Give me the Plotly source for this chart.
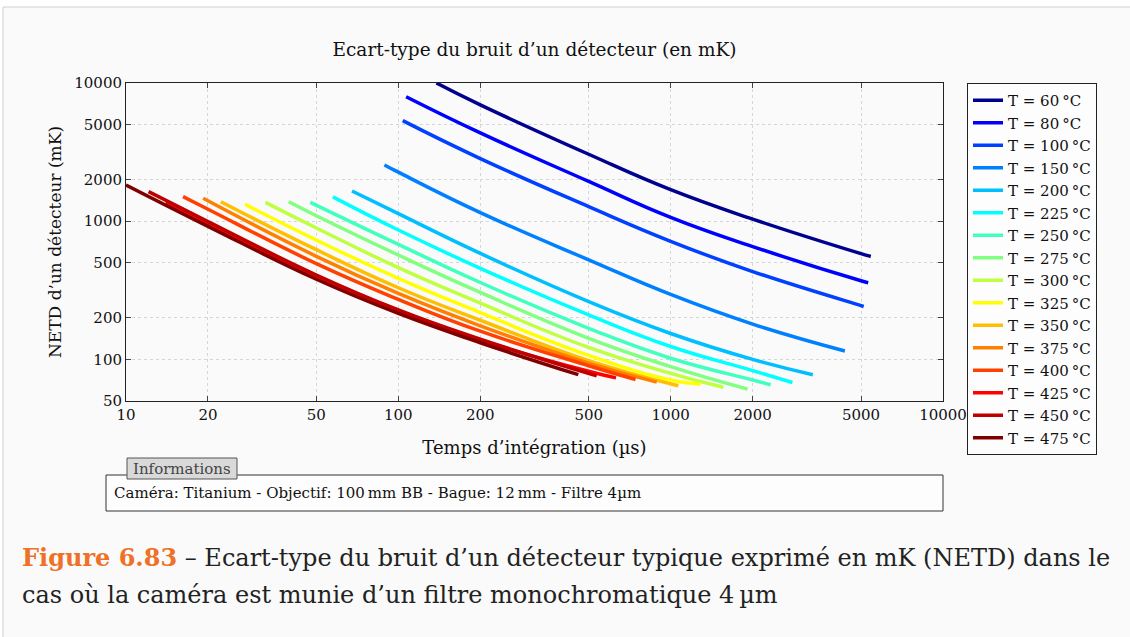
import plotly.graph_objects as go

# temperatures of the black body (°C)
temps = [60, 80, 100, 150, 200, 225, 250, 275, 300, 325, 350, 375, 400, 425, 450, 475]
colors = ["#00008F", "#0000FF", "#0040FF", "#0080FF", "#00BFFF", "#00FFFF", "#40FFBF", "#80FF80",
          "#BFFF40", "#FFFF00", "#FFBF00", "#FF8000", "#FF4000", "#FF0000", "#BF0000", "#800000"]

# integration time (µs) and NETD (mK)
t_60 = [138, 200, 500, 1000, 2000, 5000, 5430]
n_60 = [10000, 6950, 3050, 1690, 1035, 582, 555]
t_80 = [106.8, 200, 500, 1000, 2000, 5000, 5313]
n_80 = [7960, 4355, 1940, 1065, 655, 371, 359]
t_100 = [103.8, 200, 500, 1000, 2000, 5000, 5115]
n_100 = [5340, 2838, 1274, 715, 432, 245, 241.5]
t_150 = [88.9, 100, 200, 500, 1000, 2000, 4363]
n_150 = [2551, 2263, 1154, 525, 295, 180, 115]
t_200 = [67.6, 100, 200, 500, 1000, 2000, 3327]
n_200 = [1654, 1134, 585, 262, 154, 100, 77.5]
t_225 = [57.5, 100, 200, 500, 1000, 2000, 2800]
n_225 = [1500, 863, 456, 210, 124, 83, 68]
t_250 = [47.5, 100, 200, 500, 1000, 2000, 2330]
n_250 = [1370, 680, 360, 168, 102, 71, 65.5]
t_275 = [39.6, 50, 100, 200, 500, 1000, 1917]
n_275 = [1384, 1096, 569, 305, 142, 88.6, 61]
t_300 = [32.5, 50, 100, 200, 500, 1000, 1562]
n_300 = [1369, 893, 461, 255, 122, 79.3, 62.8]
t_325 = [27.4, 50, 100, 200, 500, 1000, 1290]
n_325 = [1324, 730, 386, 218, 107, 71, 66.4]
t_350 = [22.3, 50, 100, 200, 500, 1067]
n_350 = [1384, 622, 330, 192, 98, 64.5]
t_375 = [19.2, 50, 100, 200, 500, 889]
n_375 = [1464, 557, 300, 175, 94, 68.5]
t_400 = [16.2, 20, 50, 100, 200, 500, 743]
n_400 = [1505, 1221, 493, 272, 160, 90, 71.5]
t_425 = [14, 20, 50, 100, 200, 500, 630]
n_425 = [1370, 960, 400, 226, 138, 82, 73.5]
t_450 = [12.1, 20, 50, 100, 200, 535]
n_450 = [1637, 995, 408, 228, 140, 76]
t_475 = [10, 20, 50, 100, 200, 458]
n_475 = [1828, 918, 380, 215, 132, 77.5]

x_ticks = [10, 20, 50, 100, 200, 500, 1000, 2000, 5000, 10000]
y_ticks = [50, 100, 200, 500, 1000, 2000, 5000, 10000]

series = [(t_60, n_60), (t_80, n_80), (t_100, n_100), (t_150, n_150), (t_200, n_200),
          (t_225, n_225), (t_250, n_250), (t_275, n_275), (t_300, n_300), (t_325, n_325),
          (t_350, n_350), (t_375, n_375), (t_400, n_400), (t_425, n_425), (t_450, n_450),
          (t_475, n_475)]

W, H = 1130, 637
L, R, T, B = 126, 943, 83, 401  # plot area in pixels
SERIF = "DejaVu Serif"


def px(x):
    return (x - L) / (R - L)


def py(y):
    return (B - y) / (B - T)


fig = go.Figure()
for temp, col, (t, n) in zip(temps, colors, series):
    fig.add_trace(go.Scatter(x=t, y=n, mode="lines", name=f"T = {temp}\u2009°C",
                             line=dict(color=col, width=3.5, shape="spline", smoothing=1.3)))

axis_common = dict(type="log", showline=True, linecolor="#222", linewidth=1, mirror="allticks",
                   ticks="inside", ticklen=5, tickcolor="#444", showgrid=True, gridcolor="#d6d6d6",
                   griddash="dot", gridwidth=1, zeroline=False,
                   tickfont=dict(family=SERIF, size=15, color="#111"))

fig.update_xaxes(range=[1, 4], tickvals=x_ticks, ticktext=[str(v) for v in x_ticks],
                 title=dict(text="Temps d\u2019intégration (µs)", font=dict(family=SERIF, size=18, color="#111"),
                            standoff=18), **axis_common)
fig.update_yaxes(range=[1.69897, 4], tickvals=y_ticks, ticktext=[str(v) for v in y_ticks],
                 title=dict(text="NETD d\u2019un détecteur (mK)", font=dict(family=SERIF, size=17, color="#111"),
                            standoff=8), **axis_common)

shapes = [
    # page frame
    dict(type="rect", xref="paper", yref="paper", x0=px(3), x1=px(1135), y0=py(7), y1=py(645),
         line=dict(color="#cfcfcf", width=1), fillcolor="#fafafa", layer="below"),
    # information box
    dict(type="rect", xref="paper", yref="paper", x0=px(106), x1=px(943), y0=py(475), y1=py(511),
         line=dict(color="#333", width=1), fillcolor="#fdfdfd"),
    dict(type="rect", xref="paper", yref="paper", x0=px(127), x1=px(237), y0=py(458), y1=py(479),
         line=dict(color="#555", width=1), fillcolor="#d9d9d9"),
]

annotations = [
    dict(text="Informations", xref="paper", yref="paper", x=px(182), y=py(468.5), showarrow=False,
         xanchor="center", yanchor="middle", font=dict(family=SERIF, size=15, color="#444")),
    dict(text="Caméra: Titanium - Objectif: 100\u2009mm BB - Bague: 12\u2009mm - Filtre 4µm",
         xref="paper", yref="paper", x=px(112), y=py(493), showarrow=False, xanchor="left",
         yanchor="middle", font=dict(family=SERIF, size=15, color="#111")),
    dict(text="<b><span style='color:#EE7127'>Figure 6.83</span></b> \u2013 Ecart-type du bruit d\u2019un "
              "détecteur typique exprimé en mK (NETD) dans le",
         xref="paper", yref="paper", x=px(20), y=py(557), showarrow=False, xanchor="left",
         yanchor="middle", font=dict(family=SERIF, size=24, color="#222")),
    dict(text="cas où la caméra est munie d\u2019un filtre monochromatique 4\u2009µm",
         xref="paper", yref="paper", x=px(20), y=py(595), showarrow=False, xanchor="left",
         yanchor="middle", font=dict(family=SERIF, size=24, color="#222")),
]

fig.update_layout(
    width=W, height=H, autosize=False,
    margin=dict(l=L, r=W - R, t=T, b=H - B),
    paper_bgcolor="#ffffff", plot_bgcolor="rgba(0,0,0,0)",
    title=dict(text="Ecart-type du bruit d\u2019un détecteur (en mK)", x=px(534.5), xref="paper",
               xanchor="center", y=1 - 50 / H, yanchor="middle",
               font=dict(family=SERIF, size=18.5, color="#111")),
    legend=dict(x=px(967), y=1.0, xanchor="left", yanchor="top", bgcolor="#fdfdfd",
                bordercolor="#222", borderwidth=1, font=dict(family=SERIF, size=15, color="#111"),
                itemwidth=30, tracegroupgap=0, maxheight=420),
    shapes=shapes, annotations=annotations,
    showlegend=True,
)

fig.write_html("out.html", config={"displayModeBar": False},
               post_script="document.body.style.margin='0px';")
